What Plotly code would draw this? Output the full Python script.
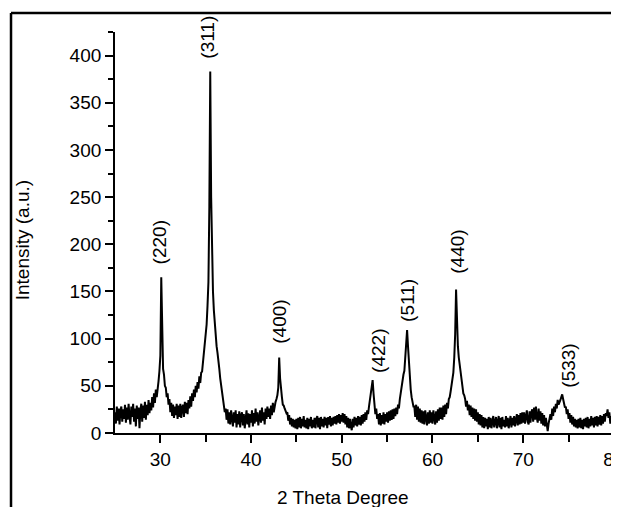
import plotly.graph_objects as go

# XRD scan: 2-theta from 25.0 to 80.0 deg, 0.1 deg step
scan_start = 25.0
scan_step = 0.1
intensity = [
    22, 10, 28, 13, 26, 9, 24, 28, 12, 25,    # 25
    15, 30, 11, 27, 14, 31, 18, 9, 28, 17,    # 26
    31, 12, 26, 7, 29, 15, 27, 5, 24, 31,     # 27
    12, 29, 16, 33, 14, 30, 19, 35, 21, 32,   # 28
    24, 38, 27, 42, 32, 46, 38, 52, 55, 66,   # 29
    82, 165, 95, 68, 62, 50, 48, 38, 42, 30,  # 30
    36, 22, 32, 18, 30, 16, 28, 19, 31, 15,   # 31
    29, 17, 31, 16, 27, 30, 17, 33, 21, 32,   # 32
    20, 35, 26, 39, 28, 42, 34, 46, 38, 50,   # 33
    43, 54, 47, 60, 53, 64, 65, 75, 80, 92,   # 34
    100, 115, 135, 160, 240, 383, 250, 175, 150, 130,  # 35
    115, 104, 92, 85, 78, 68, 58, 50, 42, 36,  # 36
    32, 22, 26, 14, 25, 10, 22, 9, 24, 12,    # 37
    7, 22, 11, 24, 6, 20, 9, 23, 6, 19,       # 38
    22, 8, 20, 5, 18, 24, 9, 21, 6, 20,       # 39
    11, 24, 7, 21, 10, 26, 12, 22, 8, 20,     # 40
    24, 11, 27, 13, 22, 9, 26, 15, 28, 17,    # 41
    26, 15, 29, 19, 32, 22, 30, 33, 36, 40,   # 42
    48, 80, 58, 44, 38, 30, 29, 26, 24, 21,   # 43
    22, 13, 19, 9, 16, 7, 15, 6, 14, 5,       # 44
    15, 4, 16, 6, 17, 5, 15, 7, 18, 6,        # 45
    14, 5, 16, 4, 15, 7, 17, 5, 14, 6,        # 46
    16, 5, 15, 18, 6, 16, 4, 17, 7, 15,       # 47
    6, 17, 8, 16, 5, 17, 9, 18, 7, 16,        # 48
    8, 17, 10, 18, 9, 19, 11, 20, 10, 19,     # 49
    12, 21, 11, 20, 9, 18, 6, 16, 5, 15,      # 50
    7, 3, 15, 6, 17, 8, 16, 7, 18, 9,         # 51
    17, 8, 19, 10, 20, 12, 22, 14, 24, 20,    # 52
    28, 35, 44, 52, 56, 42, 30, 20, 26, 15,   # 53
    20, 9, 21, 8, 19, 10, 22, 9, 20, 12,      # 54
    22, 11, 23, 13, 24, 14, 25, 15, 26, 18,   # 55
    27, 20, 30, 26, 36, 44, 48, 55, 62, 66,   # 56
    80, 98, 109, 92, 72, 58, 46, 38, 32, 28,  # 57
    28, 17, 30, 14, 28, 12, 26, 11, 24, 10,   # 58
    23, 9, 24, 11, 8, 22, 10, 24, 11, 22,     # 59
    10, 24, 12, 9, 23, 11, 25, 13, 27, 15,    # 60
    27, 14, 29, 17, 30, 20, 32, 26, 36, 38,   # 61
    44, 50, 58, 64, 80, 105, 152, 118, 92, 80,  # 62
    72, 62, 54, 48, 42, 40, 36, 28, 34, 24,   # 63
    30, 19, 29, 17, 27, 15, 26, 13, 25, 12,   # 64
    22, 9, 20, 8, 19, 6, 17, 5, 16, 7,        # 65
    15, 4, 17, 6, 16, 5, 15, 18, 6, 14,       # 66
    17, 5, 15, 18, 6, 16, 4, 17, 7, 14,       # 67
    6, 18, 7, 16, 5, 15, 18, 6, 16, 8,        # 68
    18, 7, 17, 20, 8, 19, 9, 21, 10, 22,      # 69
    11, 22, 10, 21, 24, 12, 9, 23, 11, 22,    # 70
    25, 12, 27, 14, 28, 16, 11, 26, 13, 23,   # 71
    10, 21, 8, 19, 7, 16, 5, 2, 10, 17,       # 72
    20, 14, 26, 18, 28, 22, 31, 26, 35, 30,   # 73
    32, 35, 38, 41, 36, 30, 27, 28, 20, 25,   # 74
    15, 21, 11, 19, 9, 17, 7, 15, 6, 14,      # 75
    5, 15, 6, 16, 5, 14, 4, 15, 7, 16,        # 76
    6, 17, 5, 15, 7, 18, 8, 16, 6, 17,        # 77
    8, 18, 7, 17, 9, 19, 8, 18, 10, 20,       # 78
    12, 21, 18, 25, 16, 22, 10, 18, 9, 17,    # 79
    14,                                        # 80
]
two_theta = [round(scan_start + scan_step * i, 1) for i in range(len(intensity))]

# Miller-index labels and their positions (2-theta, intensity)
peak_labels = ["(220)", "(311)", "(400)", "(422)", "(511)", "(440)", "(533)"]
label_x = [29.85, 35.25, 43.2, 54.1, 57.3, 62.8, 74.9]
label_y = [202, 420, 118, 87, 140, 192, 71]

x_ticks = [30, 40, 50, 60, 70, 80]
y_ticks = [0, 50, 100, 150, 200, 250, 300, 350, 400]

FONT = "Liberation Sans, Arial, sans-serif"

fig = go.Figure()
fig.add_trace(go.Scatter(
    x=two_theta, y=intensity, mode="lines",
    line=dict(color="black", width=2),
    showlegend=False, hoverinfo="skip", cliponaxis=False,
))

for t, lx, ly in zip(peak_labels, label_x, label_y):
    fig.add_annotation(x=lx, y=ly, xref="x", yref="y", text=t, textangle=-90,
                       xanchor="center", yanchor="middle",
                       showarrow=False, font=dict(family=FONT, size=19, color="black"))

# axis titles
fig.add_annotation(x=0.457, y=-0.162, xref="paper", yref="paper", text="2 Theta Degree",
                   xanchor="center", yanchor="middle",
                   showarrow=False, font=dict(family=FONT, size=19, color="black"))
fig.add_annotation(x=-0.186, y=0.481, xref="paper", yref="paper", text="Intensity (a.u.)",
                   xanchor="center", yanchor="middle",
                   textangle=-90, showarrow=False,
                   font=dict(family=FONT, size=19, color="black"))

# outer frame lines (figure border)
fig.add_shape(type="line", xref="paper", yref="paper", x0=-0.2084, x1=1.02, y0=1.0474, y1=1.0474,
              line=dict(color="black", width=2.5))
fig.add_shape(type="line", xref="paper", yref="paper", x0=-0.2084, x1=-0.2084, y0=1.0474, y1=-0.2,
              line=dict(color="black", width=2.5))

# the page body adds an 8px offset, so the figure is 8px smaller on each side
fig.update_layout(
    width=611, height=499,
    margin=dict(l=107, r=5, t=24, b=74, autoexpand=False),
    paper_bgcolor="white", plot_bgcolor="white",
    font=dict(family=FONT, size=19, color="black"),
)
fig.update_xaxes(
    range=[25, 80.01], tickvals=x_ticks, ticks="outside", ticklen=8, tickwidth=1.5,
    showline=True, linecolor="black", linewidth=1.8, showgrid=False, zeroline=False,
    automargin=False, ticklabeloverflow="allow",
    minor=dict(tickvals=[35, 45, 55, 65, 75], ticks="outside", ticklen=7, tickwidth=1.5, tickcolor="black"),
    tickcolor="black", tickfont=dict(family=FONT, size=19),
)
fig.update_yaxes(
    range=[0, 425], tickvals=y_ticks, ticks="outside", ticklen=8, tickwidth=1.5,
    showline=True, linecolor="black", linewidth=1.8, showgrid=False, zeroline=False,
    automargin=False,
    minor=dict(tickvals=[25, 75, 125, 175, 225, 275, 325, 375, 425], ticks="outside", ticklen=5,
               tickwidth=1.5, tickcolor="black"),
    tickcolor="black", tickfont=dict(family=FONT, size=19),
)

fig.write_html("out.html")
